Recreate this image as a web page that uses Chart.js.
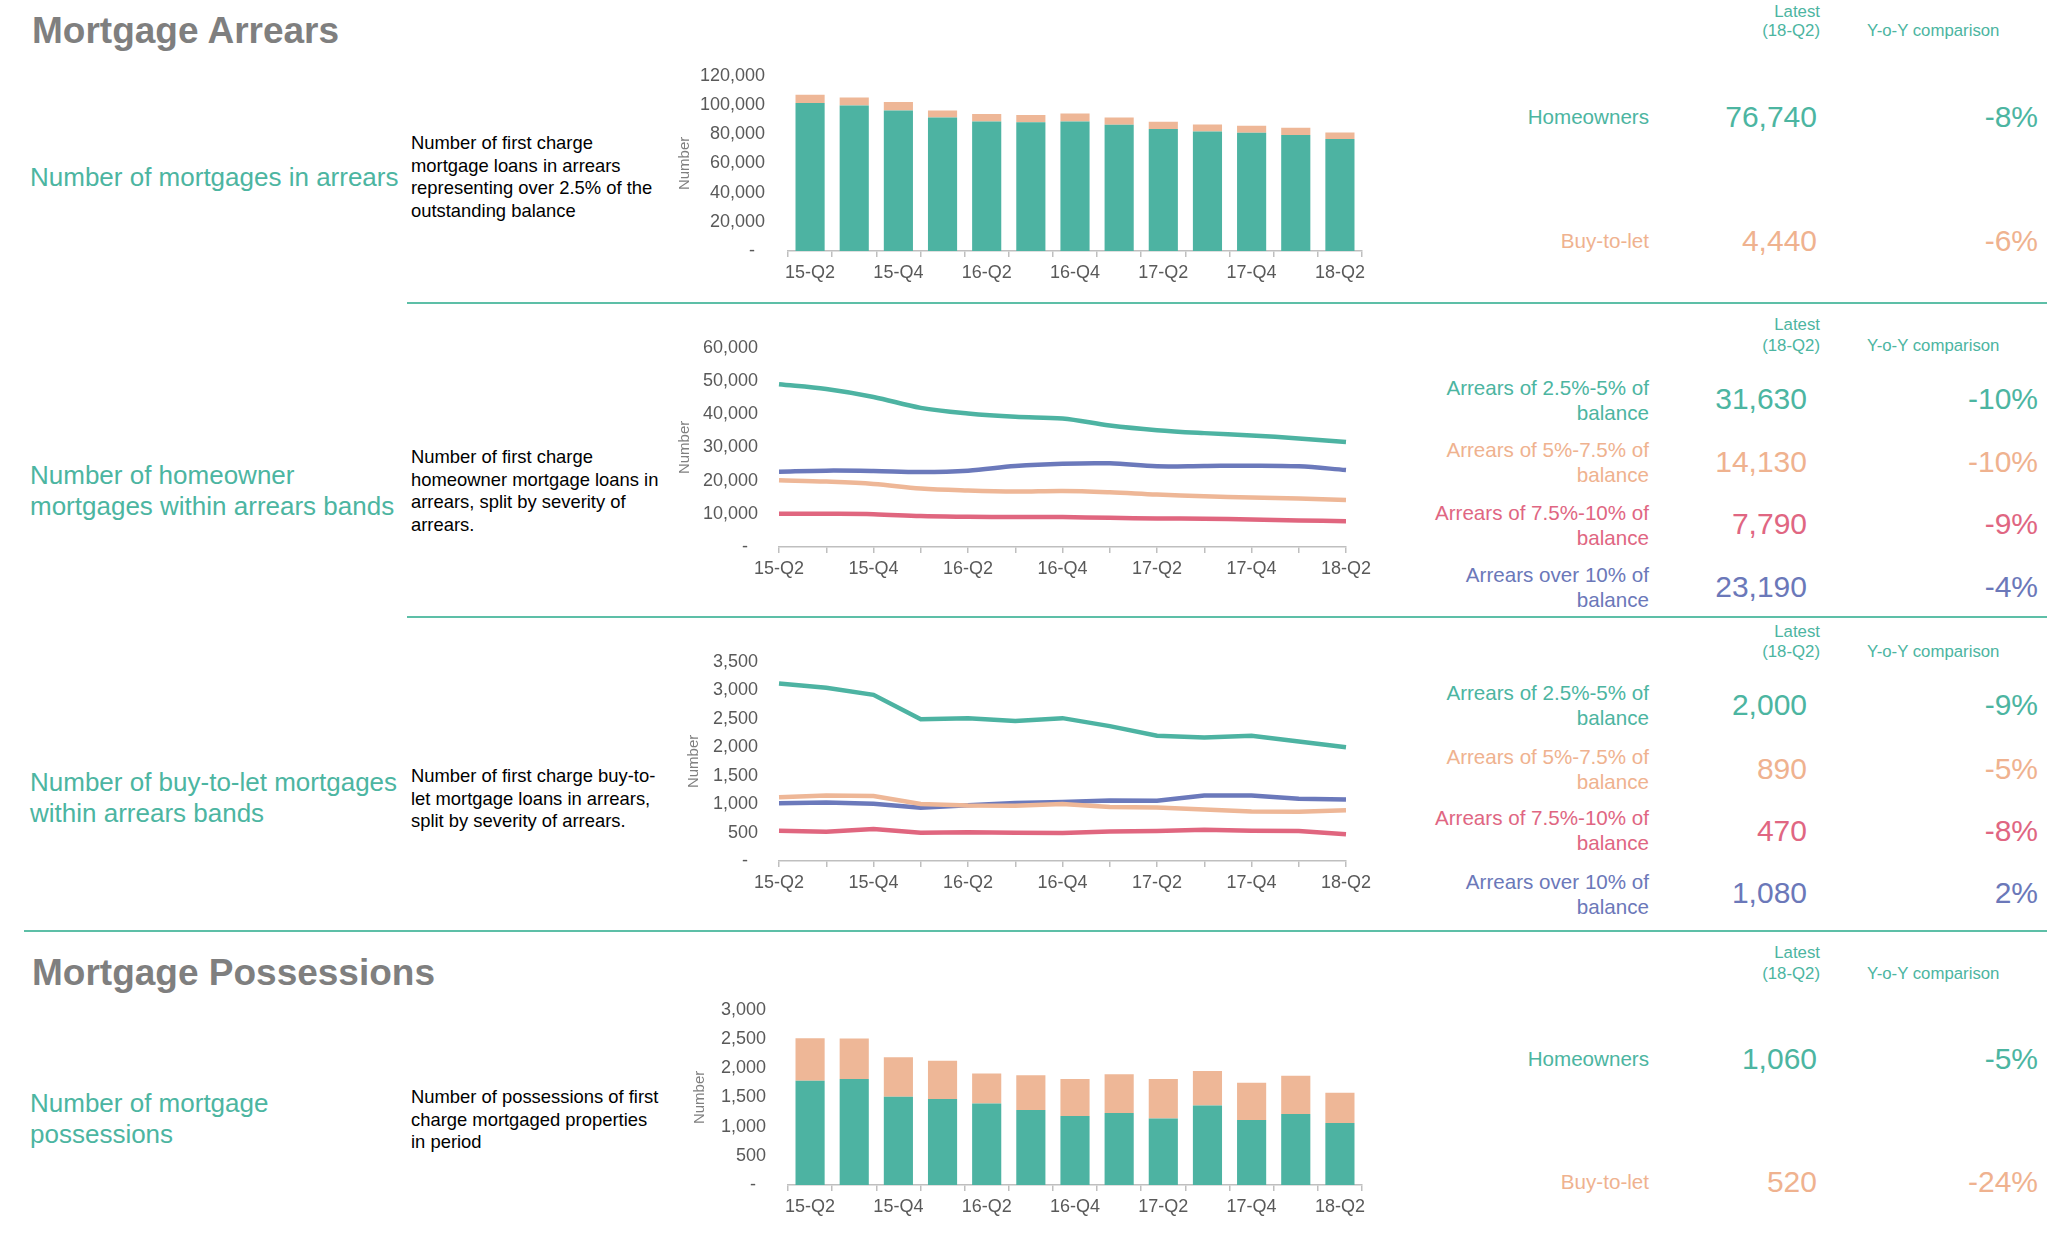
<!DOCTYPE html>
<html><head><meta charset="utf-8">
<script src="https://cdn.jsdelivr.net/npm/chart.js@4.4.1/dist/chart.umd.min.js"></script>
<style>
html,body{margin:0;padding:0;background:#fff;}
body{width:2072px;height:1240px;position:relative;overflow:hidden;font-family:"Liberation Sans",Arial,sans-serif;}
.a{position:absolute;white-space:nowrap;}
.title{font-size:37px;font-weight:bold;color:#7f7f7f;line-height:40px;left:32px;}
.lab{font-size:26px;color:#4cb5a1;line-height:31px;left:30px;}
.desc{font-size:18.4px;color:#000;line-height:22.7px;left:411px;}
.hd{font-size:16.8px;color:#4cb5a1;line-height:20px;}
.hdr{text-align:right;right:252px;}
.yoy{left:1867px;}
.rl{font-size:20.6px;line-height:24.5px;text-align:right;right:423px;}
.num{font-size:30px;line-height:34px;text-align:right;}
.n1{right:255px;}
.n2{right:265px;}
.pct{font-size:30px;line-height:34px;text-align:right;right:34px;}
.hr{position:absolute;height:2px;background:#5dbfa7;}
.c1{color:#4cb5a1;} .c2{color:#efb28f;} .c3{color:#e06682;} .c4{color:#6b78b9;}
canvas{position:absolute;}
</style>
</head>
<body>
<div class="a title" style="top:11px">Mortgage Arrears</div>
<div class="a title" style="top:953px">Mortgage Possessions</div>

<div class="a lab" style="top:162px">Number of mortgages in arrears</div>
<div class="a lab" style="top:460px">Number of homeowner<br>mortgages within arrears bands</div>
<div class="a lab" style="top:767px">Number of buy-to-let mortgages<br>within arrears bands</div>
<div class="a lab" style="top:1088px">Number of mortgage<br>possessions</div>

<div class="a desc" style="top:132px">Number of first charge<br>mortgage loans in arrears<br>representing over 2.5% of the<br>outstanding balance</div>
<div class="a desc" style="top:446px">Number of first charge<br>homeowner mortgage loans in<br>arrears, split by severity of<br>arrears.</div>
<div class="a desc" style="top:765px">Number of first charge buy-to-<br>let mortgage loans in arrears,<br>split by severity of arrears.</div>
<div class="a desc" style="top:1086px">Number of possessions of first<br>charge mortgaged properties<br>in period</div>

<div class="hr" style="top:302px;left:407px;width:1640px"></div>
<div class="hr" style="top:616px;left:407px;width:1640px"></div>
<div class="hr" style="top:930px;left:24px;width:2023px"></div>

<!-- headers -->
<div class="a hd hdr" style="top:2px">Latest</div>
<div class="a hd hdr" style="top:21px">(18-Q2)</div>
<div class="a hd yoy" style="top:21px">Y-o-Y comparison</div>
<div class="a hd hdr" style="top:315px">Latest</div>
<div class="a hd hdr" style="top:336px">(18-Q2)</div>
<div class="a hd yoy" style="top:336px">Y-o-Y comparison</div>
<div class="a hd hdr" style="top:622px">Latest</div>
<div class="a hd hdr" style="top:642px">(18-Q2)</div>
<div class="a hd yoy" style="top:642px">Y-o-Y comparison</div>
<div class="a hd hdr" style="top:943px">Latest</div>
<div class="a hd hdr" style="top:964px">(18-Q2)</div>
<div class="a hd yoy" style="top:964px">Y-o-Y comparison</div>

<!-- section 1 -->
<div class="a rl c1" style="top:105px">Homeowners</div>
<div class="a num n1 c1" style="top:100px">76,740</div>
<div class="a pct c1" style="top:100px">-8%</div>
<div class="a rl c2" style="top:229px">Buy-to-let</div>
<div class="a num n1 c2" style="top:224px">4,440</div>
<div class="a pct c2" style="top:224px">-6%</div>

<!-- section 2 -->
<div class="a rl c1" style="top:376px">Arrears of 2.5%-5% of<br>balance</div>
<div class="a num n2 c1" style="top:382px">31,630</div>
<div class="a pct c1" style="top:382px">-10%</div>
<div class="a rl c2" style="top:438px">Arrears of 5%-7.5% of<br>balance</div>
<div class="a num n2 c2" style="top:445px">14,130</div>
<div class="a pct c2" style="top:445px">-10%</div>
<div class="a rl c3" style="top:501px">Arrears of 7.5%-10% of<br>balance</div>
<div class="a num n2 c3" style="top:507px">7,790</div>
<div class="a pct c3" style="top:507px">-9%</div>
<div class="a rl c4" style="top:563px">Arrears over 10% of<br>balance</div>
<div class="a num n2 c4" style="top:570px">23,190</div>
<div class="a pct c4" style="top:570px">-4%</div>

<!-- section 3 -->
<div class="a rl c1" style="top:681px">Arrears of 2.5%-5% of<br>balance</div>
<div class="a num n2 c1" style="top:688px">2,000</div>
<div class="a pct c1" style="top:688px">-9%</div>
<div class="a rl c2" style="top:745px">Arrears of 5%-7.5% of<br>balance</div>
<div class="a num n2 c2" style="top:752px">890</div>
<div class="a pct c2" style="top:752px">-5%</div>
<div class="a rl c3" style="top:806px">Arrears of 7.5%-10% of<br>balance</div>
<div class="a num n2 c3" style="top:814px">470</div>
<div class="a pct c3" style="top:814px">-8%</div>
<div class="a rl c4" style="top:870px">Arrears over 10% of<br>balance</div>
<div class="a num n2 c4" style="top:876px">1,080</div>
<div class="a pct c4" style="top:876px">2%</div>

<!-- section 4 -->
<div class="a rl c1" style="top:1047px">Homeowners</div>
<div class="a num n1 c1" style="top:1042px">1,060</div>
<div class="a pct c1" style="top:1042px">-5%</div>
<div class="a rl c2" style="top:1170px">Buy-to-let</div>
<div class="a num n1 c2" style="top:1165px">520</div>
<div class="a pct c2" style="top:1165px">-24%</div>

<canvas id="ch1" width="715" height="254" style="left:672px;top:42px"></canvas>
<canvas id="ch2" width="709" height="276" style="left:672px;top:316px"></canvas>
<canvas id="ch3" width="700" height="276" style="left:681px;top:630px"></canvas>
<canvas id="ch4" width="700" height="253" style="left:687px;top:977px"></canvas>

<script>
// ---- data ----
const quarters = ['15-Q2','15-Q3','15-Q4','16-Q1','16-Q2','16-Q3','16-Q4','17-Q1','17-Q2','17-Q3','17-Q4','18-Q1','18-Q2'];
const quarterTickLabels = ['15-Q2','','15-Q4','','16-Q2','','16-Q4','','17-Q2','','17-Q4','','18-Q2'];

const arrearsHomeowners = [101400, 99600, 96200, 91400, 88700, 88200, 88700, 86400, 83600, 81900, 81000, 79400, 76740];
const arrearsBuyToLet   = [5700, 5600, 5900, 4800, 5200, 5000, 5400, 5000, 5000, 4800, 4800, 5000, 4440];
const arrearsTicks = [0, 20000, 40000, 60000, 80000, 100000, 120000];

const hoBand25to5  = [49000, 47600, 45200, 41900, 40200, 39200, 38700, 36600, 35200, 34300, 33600, 32700, 31630];
const hoBand5to75  = [20100, 19700, 19000, 17600, 17000, 16700, 16900, 16500, 15800, 15300, 14900, 14600, 14130];
const hoBand75to10 = [10000, 10000, 9900, 9300, 9100, 9000, 9000, 8800, 8600, 8500, 8300, 8000, 7790];
const hoBandOver10 = [22700, 23000, 22900, 22600, 23000, 24400, 25100, 25200, 24300, 24400, 24500, 24300, 23190];
const hoTicks = [0, 10000, 20000, 30000, 40000, 50000, 60000];

const btlBand25to5  = [3120, 3045, 2920, 2490, 2510, 2460, 2510, 2370, 2200, 2170, 2200, 2100, 2000];
const btlBand5to75  = [1120, 1150, 1140, 1000, 975, 970, 1000, 947, 940, 906, 871, 865, 890];
const btlBand75to10 = [530, 512, 560, 495, 505, 495, 490, 520, 525, 548, 530, 525, 470];
const btlBandOver10 = [1015, 1030, 1005, 935, 980, 1020, 1035, 1065, 1060, 1150, 1150, 1095, 1080];
const btlTicks = [0, 500, 1000, 1500, 2000, 2500, 3000, 3500];

const possHomeowners = [1783, 1817, 1509, 1474, 1394, 1286, 1183, 1234, 1137, 1360, 1114, 1217, 1060];
const possBuyToLet   = [731, 692, 680, 652, 515, 594, 634, 663, 680, 594, 635, 652, 520];
const possTicks = [0, 500, 1000, 1500, 2000, 2500, 3000];

// ---- styling ----
const TEAL = '#4db3a2', PEACH = '#eeb797', PINK = '#e0667f', BLUE = '#6b79bb';
const FONT = 'Liberation Sans, Arial, sans-serif';
const AXIS = '#bfbfbf';
const TICKTXT = '#595959';

function build(id, type, datasets, yTicks, cfg) {
  const stacked = type === 'bar';
  new Chart(document.getElementById(id), {
    type: type,
    data: { labels: quarters, datasets: datasets },
    options: {
      responsive: false,
      animation: false,
      devicePixelRatio: 1,
      layout: { padding: { top: 0, right: cfg.padRight, left: 0, bottom: 0 } },
      plugins: { legend: { display: false }, tooltip: { enabled: false } },
      elements: { point: { radius: 0 } },
      scales: {
        x: {
          stacked: stacked,
          offset: stacked,
          grid: { display: true, drawOnChartArea: false, drawTicks: true, tickLength: 6, color: AXIS, lineWidth: 1.5, offset: stacked },
          border: { display: true, color: AXIS, width: 1.5 },
          ticks: {
            autoSkip: false, maxRotation: 0, minRotation: 0, padding: 5,
            color: TICKTXT, font: { family: FONT, size: 18 },
            callback: (v, i) => quarterTickLabels[i]
          },
          afterFit: s => { s.height = 45; }
        },
        y: {
          stacked: stacked,
          min: yTicks[0], max: yTicks[yTicks.length - 1],
          grid: { display: false, drawTicks: false },
          border: { display: false },
          ticks: {
            stepSize: yTicks[1] - yTicks[0], padding: cfg.tickPad,
            color: TICKTXT, font: { family: FONT, size: 18 },
            callback: v => v === 0 ? '-  ' : v.toLocaleString('en-US')
          },
          title: { display: true, text: 'Number', color: '#7f7f7f', font: { family: FONT, size: 15 }, padding: { top: 4, bottom: 4 } },
          afterFit: s => { s.width = cfg.yWidth; }
        }
      }
    }
  });
}

function bars(a, b) {
  return [
    { data: a, backgroundColor: TEAL, barPercentage: 0.66, categoryPercentage: 1, borderWidth: 0 },
    { data: b, backgroundColor: PEACH, barPercentage: 0.66, categoryPercentage: 1, borderWidth: 0 }
  ];
}
function lines(a, b, c, d, tension) {
  const mk = (data, col) => ({ data: data, borderColor: col, backgroundColor: col, borderWidth: 4.5, tension: tension, pointRadius: 0, fill: false });
  return [mk(c, PINK), mk(b, PEACH), mk(d, BLUE), mk(a, TEAL)];
}

build('ch1', 'bar', bars(arrearsHomeowners, arrearsBuyToLet), arrearsTicks, { padRight: 25, yWidth: 116, tickPad: 23 });
build('ch2', 'line', lines(hoBand25to5, hoBand5to75, hoBand75to10, hoBandOver10, 0.35), hoTicks, { padRight: 35, yWidth: 107, tickPad: 21 });
build('ch3', 'line', lines(btlBand25to5, btlBand5to75, btlBand75to10, btlBandOver10, 0), btlTicks, { padRight: 35, yWidth: 98, tickPad: 21 });
build('ch4', 'bar', bars(possHomeowners, possBuyToLet), possTicks, { padRight: 25, yWidth: 101, tickPad: 22 });
</script>
</body></html>
